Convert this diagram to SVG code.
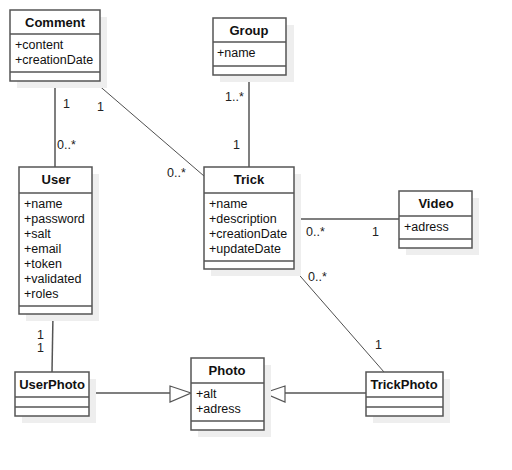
<svg xmlns="http://www.w3.org/2000/svg" width="512" height="470" viewBox="0 0 512 470">
<style>
.sh{fill:#eeeeee;stroke:none}
.box{fill:#fff;stroke:#555;stroke-width:1.5}
.dv{stroke:#555;stroke-width:1.5}
.hd{font-family:"Liberation Sans",Arial,sans-serif;font-size:13px;font-weight:bold;fill:#111;text-anchor:middle}
.at{font-family:"Liberation Sans",Arial,sans-serif;font-size:12.5px;fill:#111}
.lb{font-family:"Liberation Sans",Arial,sans-serif;font-size:12.5px;fill:#222}
.ln{stroke:#555;stroke-width:1.5;fill:none}
.dg{stroke:#222;stroke-width:0.8;fill:none}
.tri{fill:#fff;stroke:#555;stroke-width:1.2}
</style>
<rect width="512" height="470" fill="#fff"/>
<g id="connectors">
<line class="ln" x1="55" y1="81" x2="55" y2="167"/>
<line class="dg" x1="96" y1="83" x2="204" y2="176"/>
<line class="ln" x1="249" y1="75" x2="249" y2="167"/>
<line class="ln" x1="294" y1="219" x2="399" y2="219"/>
<line class="dg" x1="294" y1="269" x2="384" y2="372"/>
<line class="ln" x1="53" y1="314" x2="52" y2="372"/>
<line class="ln" x1="89" y1="393" x2="170" y2="393"/>
<polygon class="tri" points="170,386 191,393 170,402"/>
<line class="ln" x1="366" y1="393" x2="285" y2="393"/>
<polygon class="tri" points="285,386 264,393 285,402"/>
<text class="lb" x="63" y="108">1</text>
<text class="lb" x="57" y="149">0..*</text>
<text class="lb" x="97" y="111">1</text>
<text class="lb" x="167" y="177">0..*</text>
<text class="lb" x="225" y="101">1..*</text>
<text class="lb" x="233" y="149">1</text>
<text class="lb" x="306" y="236">0..*</text>
<text class="lb" x="372" y="236">1</text>
<text class="lb" x="308" y="281">0..*</text>
<text class="lb" x="375" y="349">1</text>
<text class="lb" x="37" y="339">1</text>
<text class="lb" x="37" y="352">1</text>
</g>
<g id="Comment">
<rect class="sh" x="17" y="17" width="90" height="71"/>
<rect class="box" x="10" y="10" width="90" height="71"/>
<line class="dv" x1="10" y1="34" x2="100" y2="34"/>
<line class="dv" x1="10" y1="72" x2="100" y2="72"/>
<text class="hd" x="55" y="27">Comment</text>
<text class="at" x="15" y="49">+content</text>
<text class="at" x="15" y="64">+creationDate</text>
</g>
<g id="Group">
<rect class="sh" x="220" y="25" width="74" height="57"/>
<rect class="box" x="213" y="18" width="73" height="57"/>
<line class="dv" x1="213" y1="42" x2="286" y2="42"/>
<line class="dv" x1="213" y1="66" x2="286" y2="66"/>
<text class="hd" x="249" y="35">Group</text>
<text class="at" x="217" y="57">+name</text>
</g>
<g id="User">
<rect class="sh" x="26" y="174" width="73" height="147"/>
<rect class="box" x="19" y="167" width="73" height="147"/>
<line class="dv" x1="19" y1="193" x2="92" y2="193"/>
<line class="dv" x1="19" y1="306" x2="92" y2="306"/>
<text class="hd" x="56" y="184">User</text>
<text class="at" x="24" y="208">+name</text>
<text class="at" x="24" y="223">+password</text>
<text class="at" x="24" y="238">+salt</text>
<text class="at" x="24" y="253">+email</text>
<text class="at" x="24" y="268">+token</text>
<text class="at" x="24" y="283">+validated</text>
<text class="at" x="24" y="298">+roles</text>
</g>
<g id="Trick">
<rect class="sh" x="211" y="174" width="90" height="102"/>
<rect class="box" x="204" y="167" width="90" height="102"/>
<line class="dv" x1="204" y1="193" x2="294" y2="193"/>
<line class="dv" x1="204" y1="261" x2="294" y2="261"/>
<text class="hd" x="249" y="184">Trick</text>
<text class="at" x="209" y="208">+name</text>
<text class="at" x="209" y="223">+description</text>
<text class="at" x="209" y="238">+creationDate</text>
<text class="at" x="209" y="253">+updateDate</text>
</g>
<g id="Video">
<rect class="sh" x="406" y="198" width="73" height="57"/>
<rect class="box" x="399" y="191" width="73" height="57"/>
<line class="dv" x1="399" y1="216" x2="472" y2="216"/>
<line class="dv" x1="399" y1="239" x2="472" y2="239"/>
<text class="hd" x="436" y="208">Video</text>
<text class="at" x="404" y="231">+adress</text>
</g>
<g id="UserPhoto">
<rect class="sh" x="22" y="379" width="74" height="44"/>
<rect class="box" x="15" y="372" width="74" height="44"/>
<line class="dv" x1="15" y1="397" x2="89" y2="397"/>
<line class="dv" x1="15" y1="407" x2="89" y2="407"/>
<text class="hd" x="52" y="389">UserPhoto</text>
</g>
<g id="Photo">
<rect class="sh" x="198" y="365" width="73" height="72"/>
<rect class="box" x="191" y="358" width="73" height="72"/>
<line class="dv" x1="191" y1="383" x2="264" y2="383"/>
<line class="dv" x1="191" y1="421" x2="264" y2="421"/>
<text class="hd" x="227" y="375">Photo</text>
<text class="at" x="196" y="398">+alt</text>
<text class="at" x="196" y="413">+adress</text>
</g>
<g id="TrickPhoto">
<rect class="sh" x="373" y="379" width="77" height="44"/>
<rect class="box" x="366" y="372" width="77" height="44"/>
<line class="dv" x1="366" y1="397" x2="443" y2="397"/>
<line class="dv" x1="366" y1="407" x2="443" y2="407"/>
<text class="hd" x="404" y="389">TrickPhoto</text>
</g>
</svg>
